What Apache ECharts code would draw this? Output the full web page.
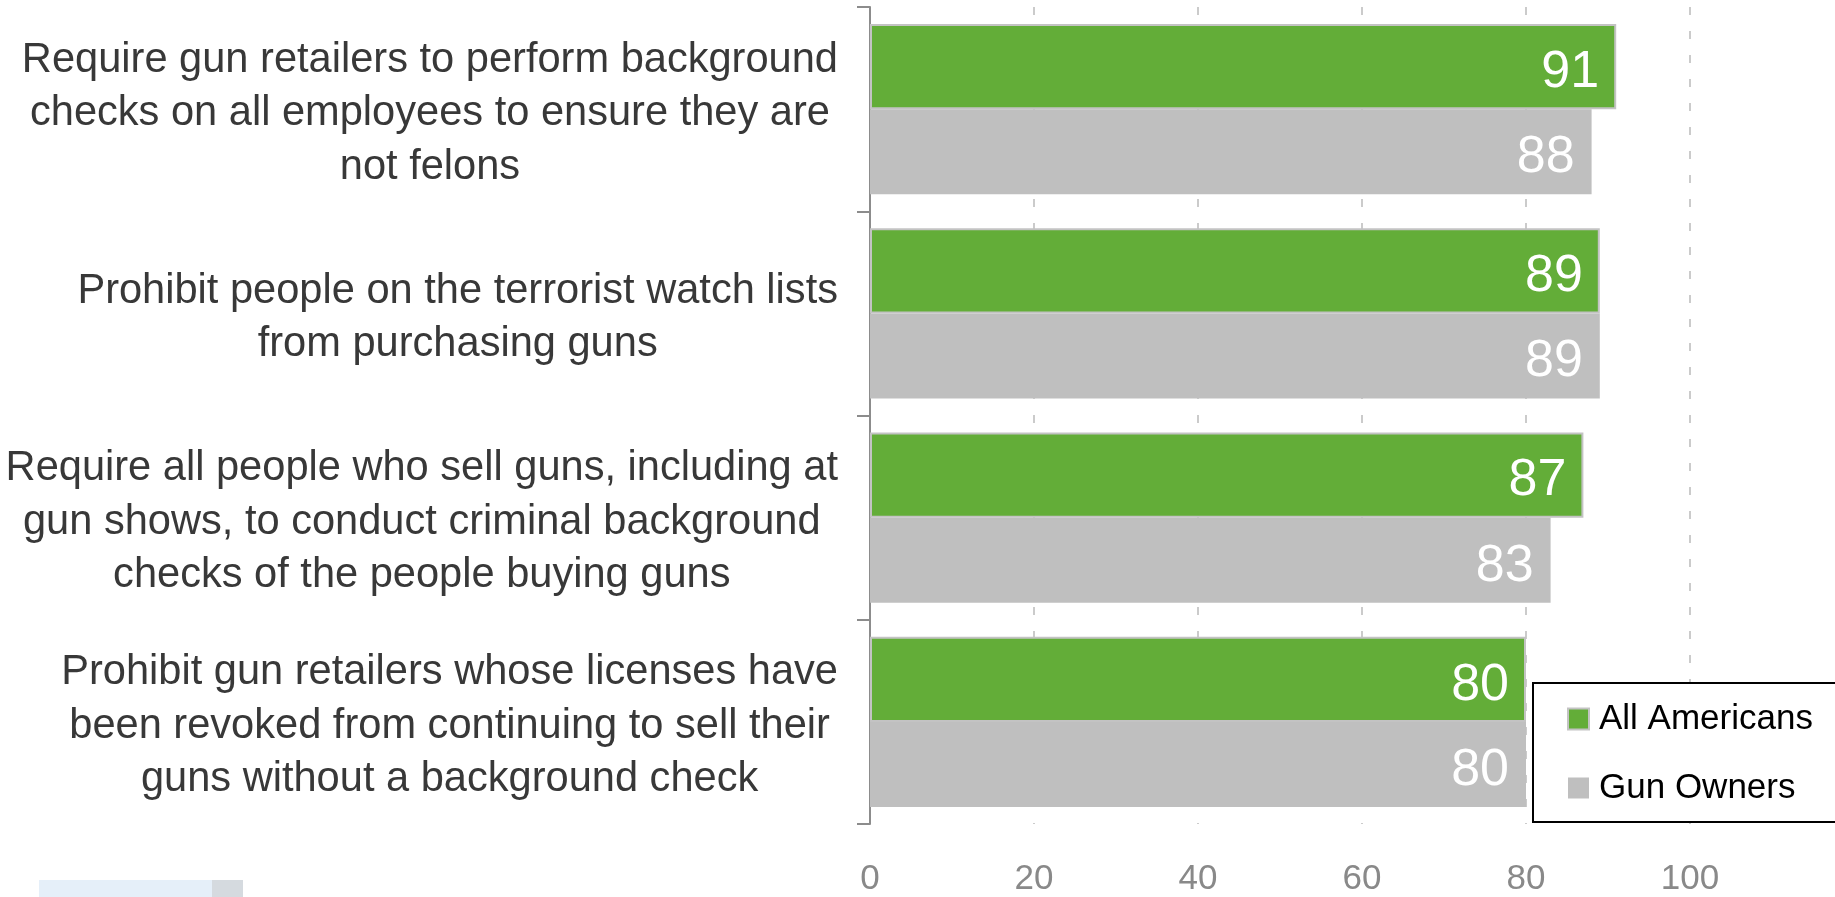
<!DOCTYPE html>
<html>
<head>
<meta charset="utf-8">
<script src="https://cdn.jsdelivr.net/npm/echarts@6/dist/echarts.min.js"></script>
<style>
  html, body { margin: 0; padding: 0; background: #fff; }
  #chart { width: 1835px; height: 897px; }
</style>
</head>
<body>
<div id="chart"></div>
<script>
// ---- data ----
const categories = [
  'Require gun retailers to perform background\nchecks on all employees to ensure they are\nnot felons',
  'Prohibit people on the terrorist watch lists\nfrom purchasing guns',
  'Require all people who sell guns, including at\ngun shows, to conduct criminal background\nchecks of the people buying guns',
  'Prohibit gun retailers whose licenses have\nbeen revoked from continuing to sell their\nguns without a background check'
];
const seriesNames = ['All Americans', 'Gun Owners'];
const allAmericans = [91, 89, 87, 80];
const gunOwners = [88, 89, 83, 80];
const xTicks = [0, 20, 40, 60, 80, 100];

const FONT = "'Liberation Sans', Arial, sans-serif";
const chart = echarts.init(document.getElementById('chart'), null, { renderer: 'canvas' });

const valueLabel = {
  show: true, position: 'insideRight', distance: 17, offset: [0, 6],
  color: '#ffffff', fontSize: 52, fontFamily: FONT
};

const option = {
  backgroundColor: '#ffffff',
  animation: false,
  grid: { left: 870, right: 145, top: 7, bottom: 70, containLabel: false },
  xAxis: {
    type: 'value',
    min: xTicks[0],
    max: xTicks[xTicks.length - 1],
    interval: 20,
    axisLine: { show: false },
    axisTick: { show: false },
    axisLabel: { color: '#898989', fontSize: 35, fontFamily: FONT, margin: 38 },
    splitLine: { show: true, lineStyle: { color: '#bababa', width: 1.5, type: [8, 16] } }
  },
  yAxis: {
    type: 'category',
    data: categories,
    inverse: true,
    axisLine: { show: true, lineStyle: { color: '#8c8c8c', width: 2 } },
    axisTick: { show: true, length: 13, lineStyle: { color: '#8c8c8c', width: 2 } },
    splitLine: { show: false },
    axisLabel: {
      margin: 32,
      color: '#383838',
      fontSize: 41.6,
      fontFamily: FONT,
      lineHeight: 53.5,
      padding: [9, 0, 0, 0],
      formatter: function (v) {
        return v.split('\n').map(function (s) { return '{c|' + s + '}'; }).join('\n');
      },
      rich: {
        c: { align: 'center', fontSize: 41.6, lineHeight: 53.5, color: '#383838', fontFamily: FONT }
      }
    }
  },
  legend: {
    orient: 'vertical',
    left: 1533,
    top: 683,
    data: seriesNames,
    icon: 'rect',
    itemWidth: 21,
    itemHeight: 21,
    itemGap: 33,
    padding: [18, 80, 16, 34],
    backgroundColor: '#ffffff',
    borderColor: '#000000',
    borderWidth: 2,
    borderRadius: 0,
    textStyle: { color: '#000000', fontSize: 35, fontFamily: FONT, lineHeight: 36, padding: [0, 0, 0, 5] }
  },
  series: [
    {
      name: seriesNames[0],
      type: 'bar',
      data: allAmericans,
      barGap: '0%',
      barCategoryGap: '16.6%',
      itemStyle: { color: '#63ad38', borderColor: '#c3c3c3', borderWidth: 2 },
      label: valueLabel
    },
    {
      name: seriesNames[1],
      type: 'bar',
      data: gunOwners,
      barGap: '0%',
      barCategoryGap: '16.6%',
      itemStyle: { color: '#bfbfbf' },
      label: valueLabel
    }
  ],
  graphic: [
    {
      type: 'rect',
      left: 39, top: 880,
      shape: { width: 173, height: 17 },
      style: { fill: '#e5eff9' },
      silent: true
    },
    {
      type: 'rect',
      left: 212, top: 880,
      shape: { width: 31, height: 17 },
      style: { fill: '#d5dadf' },
      silent: true
    }
  ]
};
chart.setOption(option);
</script>
</body>
</html>
